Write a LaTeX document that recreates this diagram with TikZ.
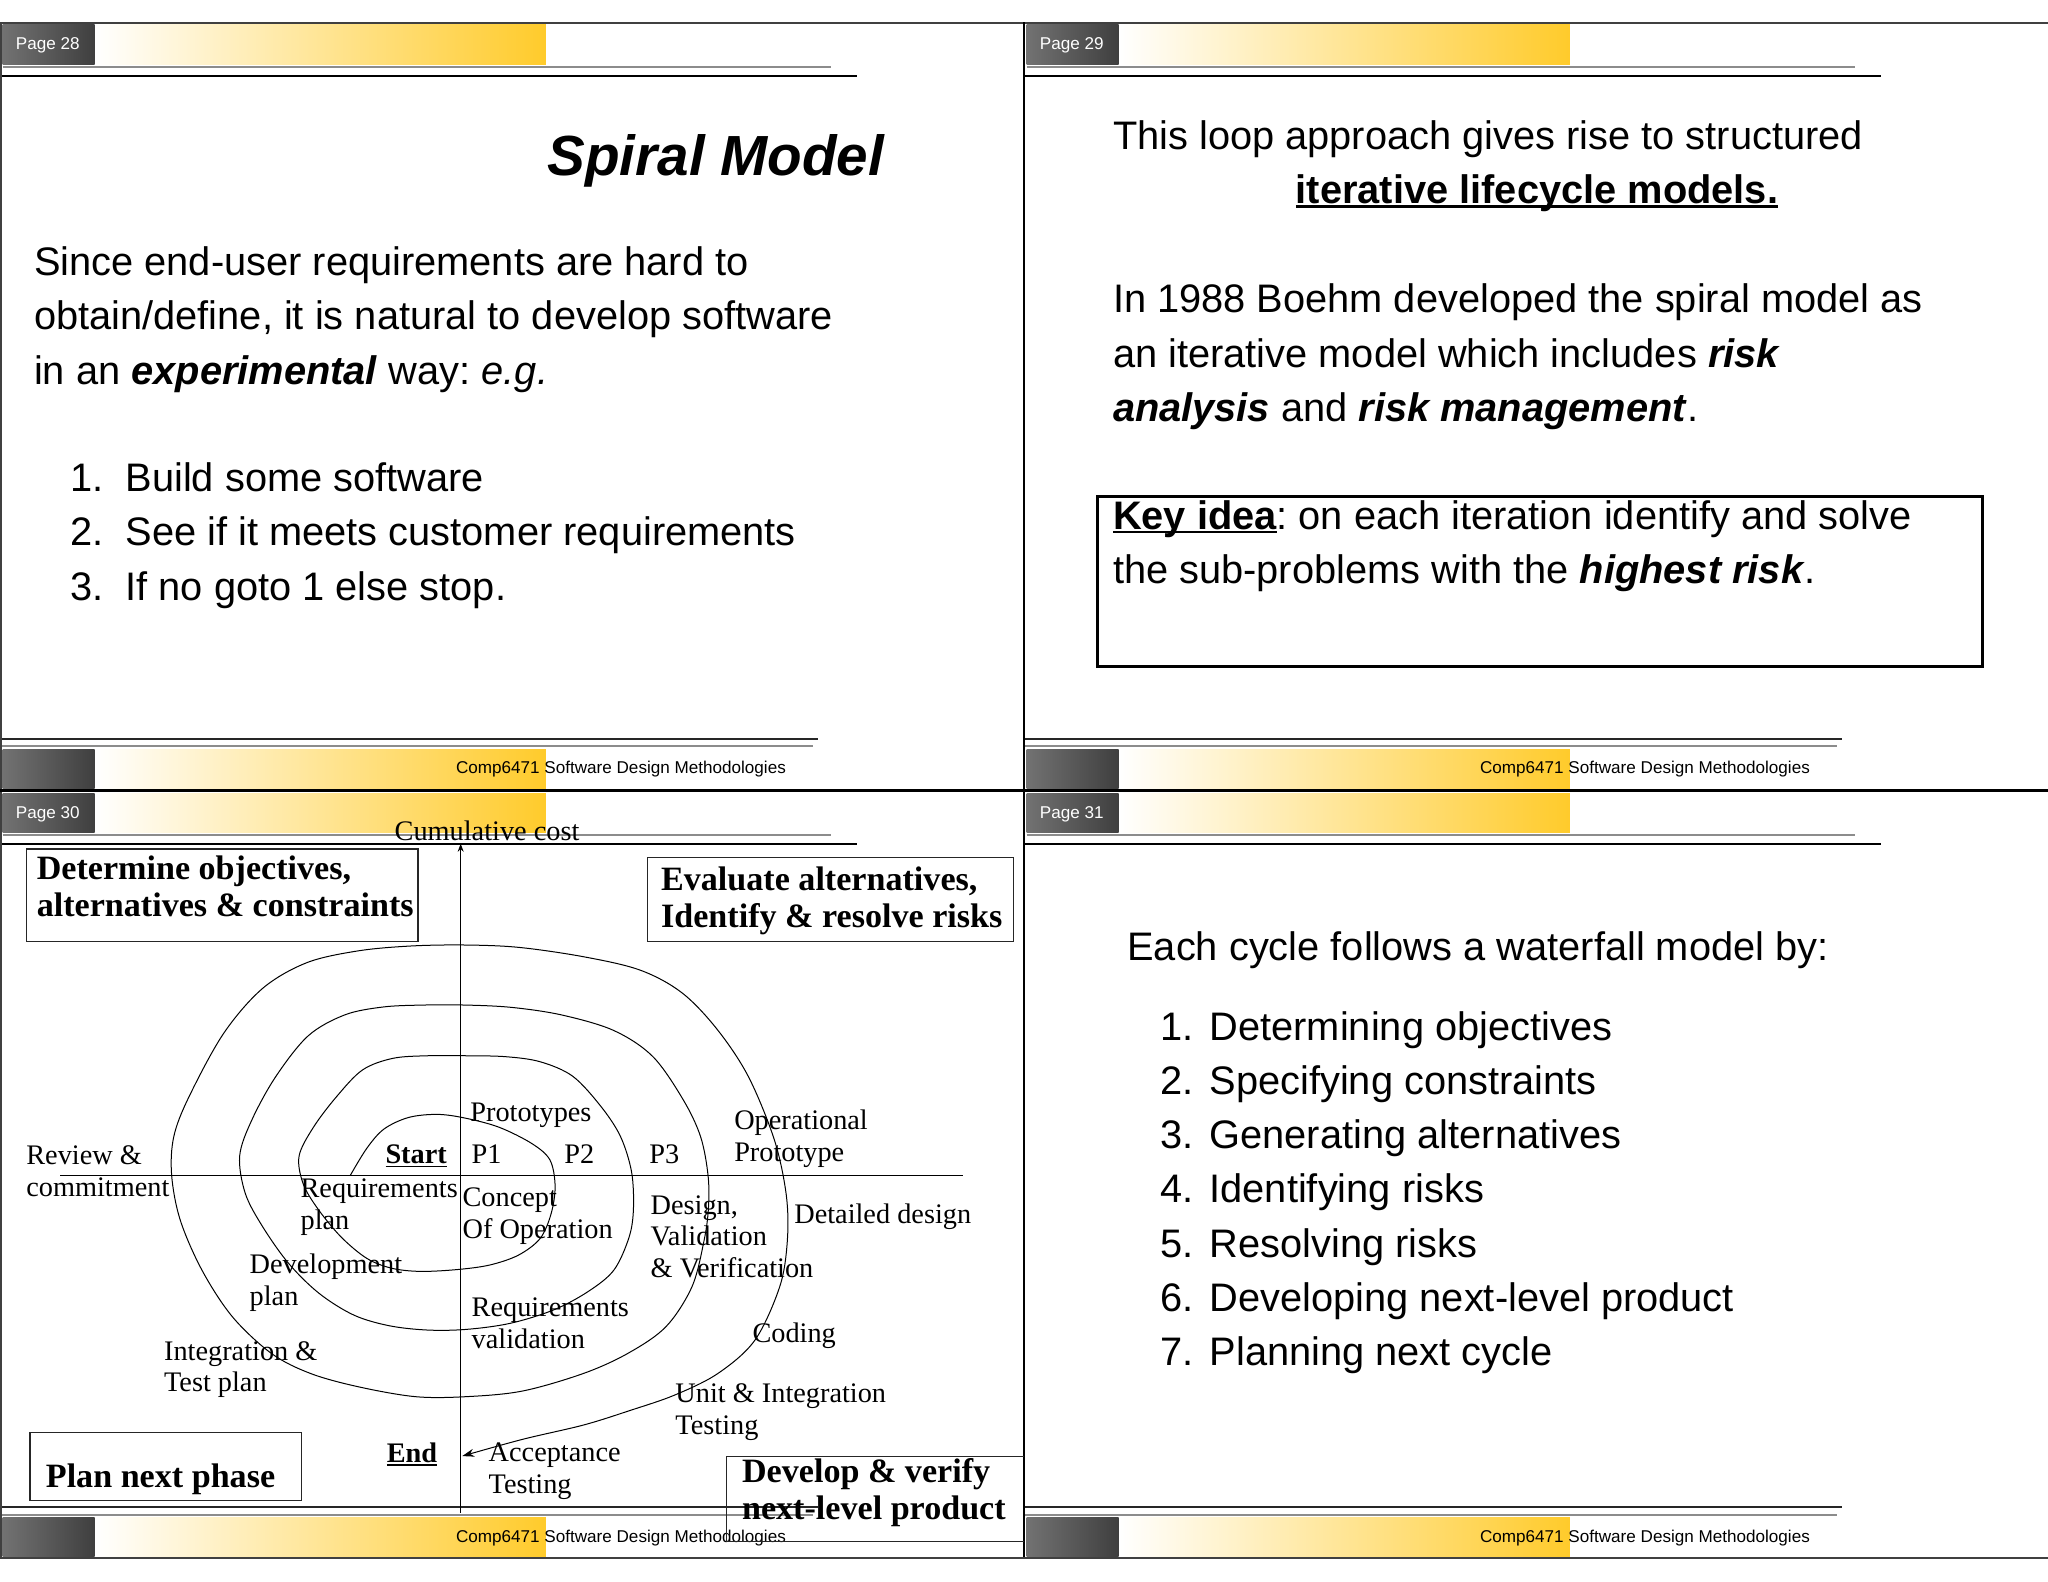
\documentclass[tikz,border=0pt]{standalone}
\usepackage{fontspec}
\setmainfont{Liberation Sans}
\newfontfamily\tnr{Liberation Serif}
\usetikzlibrary{arrows.meta}
\AtBeginDocument{\frenchspacing}
\definecolor{amber}{HTML}{FFCB2B}
\definecolor{darkL}{HTML}{727272}
\definecolor{darkR}{HTML}{3F3F3F}
\newsavebox{\ulbox}
\newcommand{\thickul}[1]{\sbox{\ulbox}{#1}\rlap{\raisebox{-3.8pt}{\rule{\wd\ulbox}{2.3pt}}}\usebox{\ulbox}}
\newcommand{\serifuline}[1]{\sbox{\ulbox}{#1}\rlap{\raisebox{-3.4pt}{\rule{\wd\ulbox}{1.6pt}}}\usebox{\ulbox}}
\newcommand{\numA}[1]{\makebox[54.9pt][l]{#1}}
\newcommand{\numB}[1]{\makebox[49.6pt][l]{#1}}
\tikzset{
  body/.style={anchor=base west,inner sep=0,align=left,font=\fontsize{39.8}{54.2}\selectfont},
  small/.style={anchor=base west,inner sep=0,font=\fontsize{17.1}{20}\selectfont},
  lab/.style={anchor=base west,inner sep=0,align=left,yshift=-0.6pt,font=\tnr\fontsize{28.3}{31.6}\selectfont},
  blab/.style={anchor=base west,inner sep=0,align=left,font=\tnr\bfseries\fontsize{34.1}{37.2}\selectfont},
  ullab/.style={anchor=base west,inner sep=0,yshift=-0.6pt,font=\tnr\bfseries\fontsize{28.3}{31.6}\selectfont},
  pbox/.style={draw=black!85,line width=1.1pt},
  rulek/.style={draw=black,line width=2.4pt},
  rulef/.style={draw=black!85,line width=1.8pt},
  ruleg/.style={draw=black!45,line width=2pt},
  edge/.style={draw=black,line width=3.2pt},
}
\newcommand{\slidepanel}[3]{%
  \begin{scope}[shift={(#1,#2)}]
    \shade[left color=darkL,right color=darkR] (2,19) rectangle (72.5,49);
    \shade[left color=white,right color=amber] (73,19) rectangle (418,49);
    \draw[ruleg] (2,51) -- (636,51);
    \draw[rulek] (1,58) -- (656,58);
    \draw[rulef] (1,565.5) -- (626,565.5);
    \draw[ruleg] (1,571.5) -- (622.5,571.5);
    \shade[left color=darkL,right color=darkR] (2,573.5) rectangle (72.5,603.5);
    \shade[left color=white,right color=amber] (73,573.5) rectangle (418,603.5);
    \node[small,text=white] (page#3) at (12,38) {Page #3};
    \node[small] (foot#3) at (349,592.5) {Comp6471 Software Design Methodologies};
  \end{scope}}
\begin{document}
\begin{tikzpicture}[x=1.3061pt,y=-1.3061pt]
\useasboundingbox (0,0) rectangle (1568,1211.2);
\fill[white] (0,0) rectangle (1568,1211.2);
\slidepanel{0}{0}{28}
\slidepanel{784}{0}{29}
\slidepanel{0}{588.3}{30}
\slidepanel{784}{588.3}{31}
% frame
\draw[draw=black!75,line width=2pt] (0.7,1192.6) -- (0.7,17.5) -- (1568,17.5);
\draw[edge] (0,605.2) -- (1568,605.2);
\draw[rulek] (784,17) -- (784,1193);
\draw[draw=black!75,line width=2pt] (0,1193) -- (1568,1193);
% page 28
\node[anchor=base west,inner sep=0,font=\bfseries\itshape\fontsize{56.6}{60}\selectfont] (title) at (419,134) {Spiral Model};
\node[body] (intro) at (26,294) {Since end-user requirements are hard to\\obtain/define, it is natural to develop software\\in an \textbf{\textit{experimental}} way: \textit{e.g.}};
\node[body] (a1) at (54,376.3) {\numA{1.}Build some software};
\node[body] (a2) at (54,418) {\numA{2.}See if it meets customer requirements};
\node[body] (a3) at (54,459.6) {\numA{3.}If no goto 1 else stop.};
% page 29
\node[body] (l1) at (852,114.5) {This loop approach gives rise to structured};
\node[body] (l2) at (992,156) {\textbf{\thickul{iterative lifecycle models.}}};
\node[body] (boehm) at (852,322.5) {In 1988 Boehm developed the spiral model as\\an iterative model which includes \textbf{\textit{risk}}\\\textbf{\textit{analysis}} and \textbf{\textit{risk management}}.};
\draw[edge] (840,380) rectangle (1518,510.3);
\node[body] (key) at (852,447) {\textbf{\thickul{Key idea}}: on each iteration identify and solve\\the sub-problems with the \textbf{\textit{highest risk}}.};
% page 31
\node[body] (each) at (863,735.5) {Each cycle follows a waterfall model by:};
\node[body] (c1) at (888,796.4) {\numB{1.}Determining objectives};
\node[body] (c2) at (888,838) {\numB{2.}Specifying constraints};
\node[body] (c3) at (888,879.3) {\numB{3.}Generating alternatives};
\node[body] (c4) at (888,921) {\numB{4.}Identifying risks};
\node[body] (c5) at (888,962.4) {\numB{5.}Resolving risks};
\node[body] (c6) at (888,1003.8) {\numB{6.}Developing next-level product};
\node[body] (c7) at (888,1045.2) {\numB{7.}Planning next cycle};
% page 30 axes
\coordinate (axT) at (352.7,646);
\coordinate (axB) at (352.7,1158);
\coordinate (axL) at (46,899.6);
\coordinate (axR) at (737,899.6);
\draw[line width=1pt,-{Stealth[length=8pt,width=6pt]}] (axB) -- (axT);
\draw[line width=1pt] (axL) -- (axR);
% spiral
\draw[line width=1pt,-{Stealth[length=12pt,width=8pt]}] plot[smooth,tension=0.55] coordinates {
(268.2,899.9)(280.8,879.2)(294,864.4)(313,855.5)(335,853.2)(356,856)(382,863)(407,875.4)(421,888)(425,908)(422,929)(413.6,948.1)(397,960.9)(375,968.5)(350,972)(322,973.4)(300,971)(280.8,963.4)(260.9,946.8)(243,925)(232,906)(229,885)(240,863)(257.6,839.7)(277.5,819.2)(300.7,810.3)(327.3,808.3)(357,808.3)(387,809)(413.6,812.9)(438.5,824)(460,847)(475,870)(483.5,897)(485,925)(481.7,947)(470,972.4)(450,989)(423.6,1003)(390.4,1013.2)(357,1017.8)(327.3,1018.3)(298,1015)(270.8,1006.8)(244.3,990.2)(221,967.3)(201.1,939.2)(187.8,913.7)(183.5,885)(192.8,857.5)(211.1,824.3)(236,793)(264,777)(293,771)(323,769.5)(357,769.5)(392,771.3)(430.2,777.1)(470,789)(499.9,809)(523.2,842.2)(536.4,870.3)(542.1,899.9)(542.4,925)(539,950)(529.8,985.1)(509.9,1015.7)(481,1036)(446.8,1051.5)(400,1065)(357,1069.3)(318,1069.3)(274.2,1061.7)(237.6,1051.5)(207.8,1036.2)(177.9,1008.1)(154.6,972.4)(138,934.1)(131.4,899.6)(133.1,870)(144.7,839.7)(171.2,791.2)(201.1,756.7)(235,737)(274.2,728)(314,724.3)(355,723.5)(397,725.3)(446.8,732.5)(490,742.7)(522,760)(549,788)(573,824.3)(592.9,872.8)(602,915)(602.8,950)(597,985)(578,1026)(549.7,1051.5)(516.5,1068.1)(482,1080)(446.8,1091)(400,1102)(353.9,1114.8)};
% page 30 boxes
\draw[pbox] (20,650) rectangle (320,721);
\draw[pbox] (496,656.5) rectangle (776,721);
\draw[pbox] (23,1097) rectangle (231,1149);
\draw[pbox] (784,1115) -- (556,1115) -- (556,1180) -- (784,1180);
\node[blab] (b1) at (28,702) {Determine objectives,\\alternatives \& constraints};
\node[blab] (b2) at (506,710) {Evaluate alternatives,\\Identify \& resolve risks};
\node[blab] (b3) at (35,1138.5) {Plan next phase};
\node[blab] (b4) at (568,1163.5) {Develop \& verify\\next-level product};
% page 30 labels
\node[lab] (cc) at (302,643) {Cumulative cost};
\node[lab] (rv) at (20,915.5) {Review \&\\commitment};
\node[ullab] (st) at (295,890.5) {\serifuline{Start}};
\node[lab] (p1) at (361,890.5) {P1};
\node[lab] (p2) at (432,890.5) {P2};
\node[lab] (p3) at (497,890.5) {P3};
\node[lab] (pr) at (360,858) {Prototypes};
\node[lab] (op) at (562,888.5) {Operational\\Prototype};
\node[lab] (rp) at (230,940.5) {Requirements\\plan};
\node[lab] (co) at (354,947.5) {Concept\\Of Operation};
\node[lab] (dv) at (498,977.5) {Design,\\Validation\\\& Verification};
\node[lab] (dd) at (608,936.5) {Detailed design};
\node[lab] (dp) at (191,999) {Development\\plan};
\node[lab] (rq) at (361,1032) {Requirements\\validation};
\node[lab] (cd) at (576,1027.5) {Coding};
\node[lab] (it) at (125.5,1065) {Integration \&\\Test plan};
\node[lab] (un) at (517,1097.5) {Unit \& Integration\\Testing};
\node[ullab] (en) at (296,1119) {\serifuline{End}};
\node[lab] (ac) at (374,1143) {Acceptance\\Testing};
\end{tikzpicture}
\end{document}
